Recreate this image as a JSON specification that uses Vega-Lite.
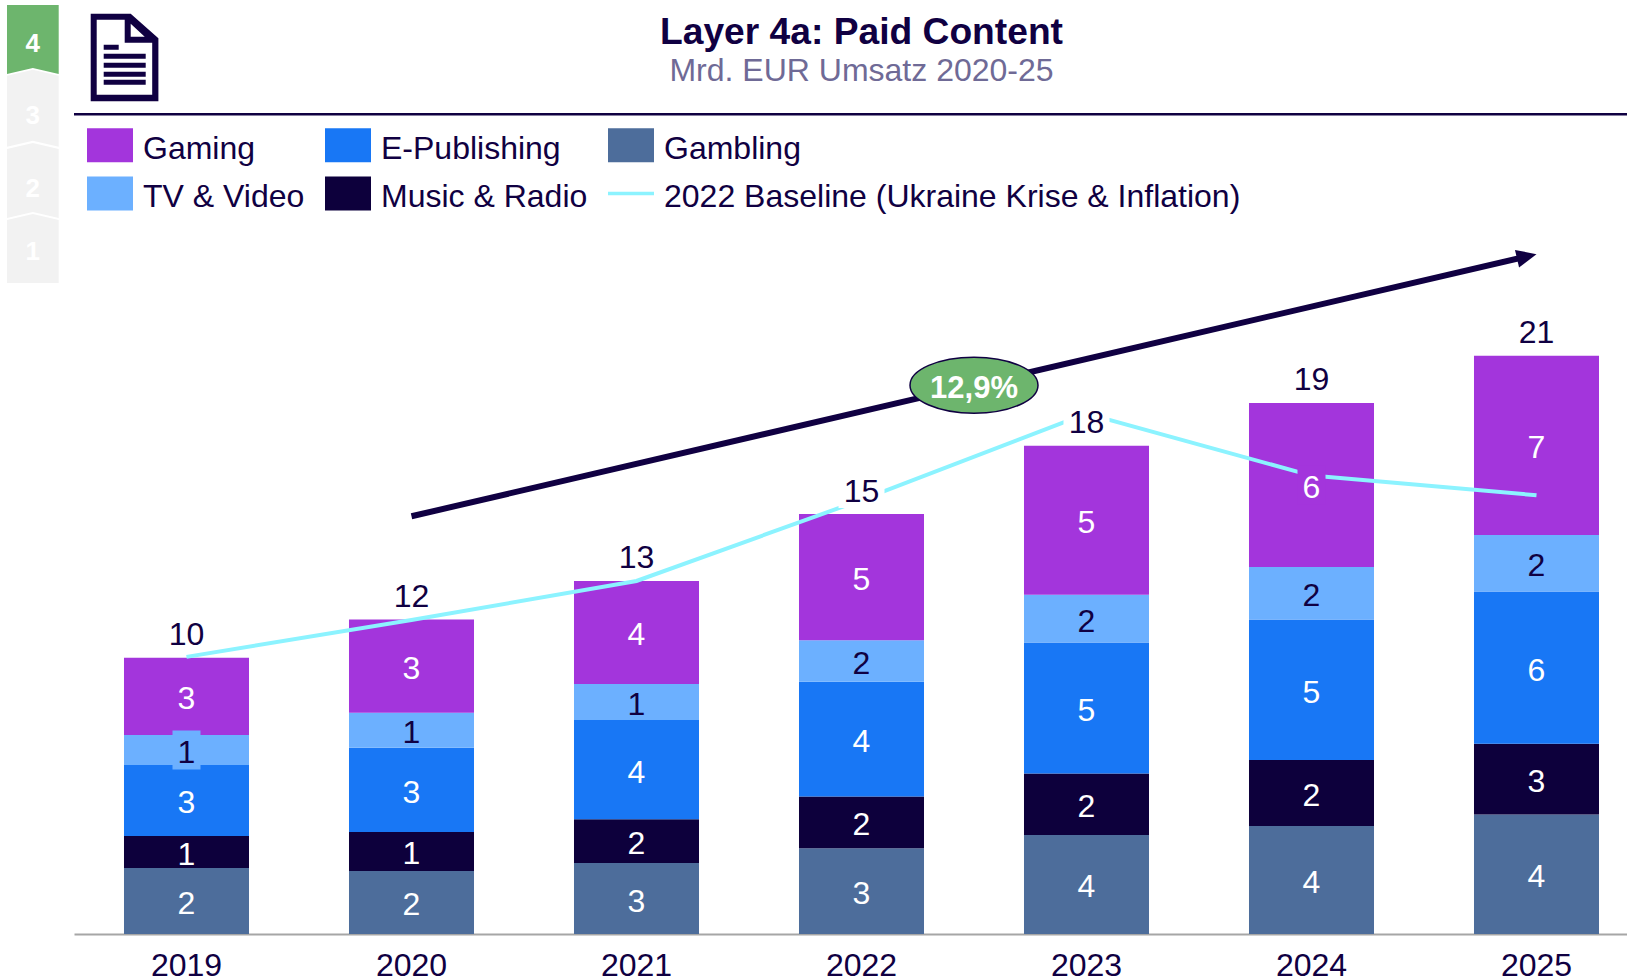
{
"$schema":"https://vega.github.io/schema/vega-lite/v6.json",
"width":1553,"height":824,
"autosize":{"type":"none"},
"padding":{"left":74,"top":110,"right":0,"bottom":44},
"background":"white",
"title":{"text":"Layer 4a: Paid Content","subtitle":"Mrd. EUR Umsatz 2020-25","anchor":"middle","dx":11,"offset":-83,"font":"Liberation Sans","fontSize":37.2,"fontWeight":"bold","color":"#100042","subtitleFont":"Liberation Sans","subtitleFontSize":32,"subtitleColor":"#6f6a96","subtitlePadding":4},
"config":{"view":{"stroke":null},"font":"Liberation Sans"},
"datasets":{
"segments":[
{"year":"2019","series":"Gambling","stack":1,"v":2.42},{"year":"2019","series":"Music & Radio","stack":2,"v":1.17},{"year":"2019","series":"E-Publishing","stack":3,"v":2.6},{"year":"2019","series":"TV & Video","stack":4,"v":1.1},{"year":"2019","series":"Gaming","stack":5,"v":2.83},
{"year":"2020","series":"Gambling","stack":1,"v":2.31},{"year":"2020","series":"Music & Radio","stack":2,"v":1.43},{"year":"2020","series":"E-Publishing","stack":3,"v":3.08},{"year":"2020","series":"TV & Video","stack":4,"v":1.28},{"year":"2020","series":"Gaming","stack":5,"v":3.42},
{"year":"2021","series":"Gambling","stack":1,"v":2.6},{"year":"2021","series":"Music & Radio","stack":2,"v":1.6},{"year":"2021","series":"E-Publishing","stack":3,"v":3.64},{"year":"2021","series":"TV & Video","stack":4,"v":1.32},{"year":"2021","series":"Gaming","stack":5,"v":3.77},
{"year":"2022","series":"Gambling","stack":1,"v":3.14},{"year":"2022","series":"Music & Radio","stack":2,"v":1.9},{"year":"2022","series":"E-Publishing","stack":3,"v":4.2},{"year":"2022","series":"TV & Video","stack":4,"v":1.52},{"year":"2022","series":"Gaming","stack":5,"v":4.62},
{"year":"2023","series":"Gambling","stack":1,"v":3.63},{"year":"2023","series":"Music & Radio","stack":2,"v":2.25},{"year":"2023","series":"E-Publishing","stack":3,"v":4.8},{"year":"2023","series":"TV & Video","stack":4,"v":1.75},{"year":"2023","series":"Gaming","stack":5,"v":5.45},
{"year":"2024","series":"Gambling","stack":1,"v":3.96},{"year":"2024","series":"Music & Radio","stack":2,"v":2.41},{"year":"2024","series":"E-Publishing","stack":3,"v":5.15},{"year":"2024","series":"TV & Video","stack":4,"v":1.92},{"year":"2024","series":"Gaming","stack":5,"v":6.01},
{"year":"2025","series":"Gambling","stack":1,"v":4.38},{"year":"2025","series":"Music & Radio","stack":2,"v":2.59},{"year":"2025","series":"E-Publishing","stack":3,"v":5.57},{"year":"2025","series":"TV & Video","stack":4,"v":2.07},{"year":"2025","series":"Gaming","stack":5,"v":6.57}
],
"baseline":[
{"year":"2019","series":"2022 Baseline (Ukraine Krise & Inflation)","v":10.15},
{"year":"2020","series":"2022 Baseline (Ukraine Krise & Inflation)","v":11.5},
{"year":"2021","series":"2022 Baseline (Ukraine Krise & Inflation)","v":12.93},
{"year":"2022","series":"2022 Baseline (Ukraine Krise & Inflation)","v":15.9},
{"year":"2023","series":"2022 Baseline (Ukraine Krise & Inflation)","v":19.06},
{"year":"2024","series":"2022 Baseline (Ukraine Krise & Inflation)","v":16.79},
{"year":"2025","series":"2022 Baseline (Ukraine Krise & Inflation)","v":16.07}
],
"trend":[{"year":"2020","v":15.3},{"year":"2025","v":24.9}],
"cagr":[{"year":"2022","v":20.1,"label":"12,9%"}],
"nav":[{"year":"2019","layer":"4","v":32.67},{"year":"2019","layer":"3","v":30.04},{"year":"2019","layer":"2","v":27.36},{"year":"2019","layer":"1","v":25.05}]
},
"encoding":{
"x":{"field":"year","type":"nominal","sort":null,"scale":{"type":"band","domain":["2019","2020","2021","2022","2023","2024","2025"],"range":[0,1575],"paddingInner":0.4444,"paddingOuter":0.2222},"axis":{"title":null,"labelAngle":0,"labelFont":"Liberation Sans","labelFontSize":32,"labelColor":"#100042","labelPadding":16,"ticks":false,"domainColor":"#a6a6a6","domainWidth":2,"grid":false}}
},
"layer":[
{"data":{"name":"segments"},"mark":{"type":"bar","opacity":1,"strokeWidth":0},
 "encoding":{"y":{"field":"v","type":"quantitative","stack":"zero","scale":{"domain":[0,30.18],"nice":false},"axis":null},
 "order":{"field":"stack","type":"ordinal"},
 "color":{"field":"series","type":"nominal","sort":null,"scale":{"domain":["Gaming","TV & Video","E-Publishing","Music & Radio","Gambling","2022 Baseline (Ukraine Krise & Inflation)"],"range":["#a335dc","#6cb0ff","#1877f5","#0d003c","#4d6d9b","#8cf3ff"]},
 "legend":{"title":null,"orient":"none","legendX":13,"legendY":12,"columns":3,"columnPadding":20,"rowPadding":5.5,"padding":0,"symbolSize":2116,"symbolType":"M-1,-0.74H1V0.74H-1Z","symbolStrokeWidth":0,"symbolOpacity":1,"labelFont":"Liberation Sans","labelFontSize":32,"labelColor":"#100042","labelOffset":10,"labelLimit":800,
 "encode":{"symbols":{"update":{"shape":{"signal":"indexof(datum.value,'Baseline')>=0 ? 'M-1,-0.08H1V0.08H-1Z' : 'M-1,-0.74H1V0.74H-1Z'"}}},"labels":{"update":{"dy":{"value":3.5}}}}}}}},
{"data":{"name":"baseline"},"mark":{"type":"line","strokeWidth":4,"interpolate":"linear"},
 "encoding":{"y":{"field":"v","type":"quantitative"},"color":{"field":"series","type":"nominal"}}},
{"data":{"name":"trend"},"mark":{"type":"line","color":"#100042","strokeWidth":6,"strokeDash":[1144,100]},
 "encoding":{"y":{"field":"v","type":"quantitative"}}},
{"data":{"name":"trend"},"transform":[{"filter":"datum.year==='2025'"}],
 "mark":{"type":"point","filled":true,"opacity":1,"color":"#100042","size":4,"angle":-13.1,"strokeWidth":0,"shape":"M0,0L-20,-9L-20,9Z"},
 "encoding":{"y":{"field":"v","type":"quantitative"}}},
{"data":{"name":"cagr"},"mark":{"type":"point","filled":true,"opacity":1,"fill":"#6db56d","stroke":"#100042","strokeWidth":1.5,"size":16384,"xOffset":112.5,"shape":"M-1,0A1,0.4375,0,1,1,1,0A1,0.4375,0,1,1,-1,0Z"},
 "encoding":{"y":{"field":"v","type":"quantitative"}}},
{"data":{"name":"cagr"},"mark":{"type":"text","color":"white","font":"Liberation Sans","fontWeight":"bold","fontSize":31,"xOffset":112.5,"baseline":"middle","dy":3.5},
 "encoding":{"y":{"field":"v","type":"quantitative"},"text":{"field":"label"}}},
{"data":{"name":"segments"},"transform":[{"filter":"datum.year==='2022'||datum.year==='2023'"}],
 "mark":{"type":"point","filled":true,"opacity":1,"fill":"white","strokeWidth":0,"size":4,"yOffset":-23,"shape":"M-23,-17H23V17H-23Z"},
 "encoding":{"y":{"aggregate":"sum","field":"v","type":"quantitative","stack":null}}},
{"data":{"name":"segments"},"mark":{"type":"point","filled":true,"opacity":1,"strokeWidth":0,"size":4,"shape":"M-14,-19.5H14V19.5H-14Z"},
 "transform":[{"stack":"v","groupby":["year"],"sort":[{"field":"stack","order":"ascending"}],"as":["v0","v1"]},{"calculate":"(datum.v0+datum.v1)/2","as":"mid"},{"filter":"(datum.year==='2019'&&datum.series==='TV & Video')||(datum.year==='2024'&&datum.series==='Gaming')"}],
 "encoding":{"y":{"field":"mid","type":"quantitative"},"color":{"field":"series","type":"nominal"}}},
{"data":{"name":"segments"},"mark":{"type":"text","font":"Liberation Sans","fontSize":32,"baseline":"middle","dy":3},
 "transform":[{"stack":"v","groupby":["year"],"sort":[{"field":"stack","order":"ascending"}],"as":["v0","v1"]},{"calculate":"(datum.v0+datum.v1)/2","as":"mid"}],
 "encoding":{"y":{"field":"mid","type":"quantitative"},"text":{"field":"v","type":"quantitative","format":".0f"},
 "color":{"condition":{"test":"datum.series==='TV & Video'","value":"#100042"},"value":"white"}}},
{"data":{"name":"segments"},"mark":{"type":"text","font":"Liberation Sans","fontSize":32,"baseline":"middle","dy":-22.5,"color":"#100042"},
 "encoding":{"y":{"aggregate":"sum","field":"v","type":"quantitative","stack":null},"text":{"aggregate":"sum","field":"v","type":"quantitative","format":".0f"}}},
{"data":{"values":[{"v":30.02}]},"mark":{"type":"rule","color":"#100042","strokeWidth":2.5},"encoding":{"x":{"value":0},"x2":{"value":1553},"y":{"field":"v","type":"quantitative"}}},
{"data":{"values":[{"year":"2019","v":32.09}]},"mark":{"type":"point","filled":true,"opacity":1,"color":"#100042","strokeWidth":0,"size":4,"xOffset":-61.8,"shape":"M-34,-44L6,-44L33.7,-19.5L33.7,43.5L-34,43.5ZM-28,-38L-28,37L27.5,37L27.5,-15L0,-15L0,-38ZM6,-34L6,-21L20,-21ZM-21,-13H-6V-8H-21ZM-21,-4H21V1H-21ZM-21,5H21V10H-21ZM-21,14H21V19H-21ZM-21,22H21V27H-21Z"},
 "encoding":{"y":{"field":"v","type":"quantitative"}}},
{"data":{"name":"nav"},"mark":{"type":"point","filled":true,"opacity":1,"strokeWidth":0,"size":4,"xOffset":-153.65},
 "encoding":{"y":{"field":"v","type":"quantitative"},
 "shape":{"field":"layer","type":"nominal","legend":null,"scale":{"domain":["4","3","2","1"],"range":["M-25.85,-37H25.85V32L0,26L-25.85,32Z","M-25.85,-38L0,-44L25.85,-38V33L0,27L-25.85,33Z","M-25.85,-38L0,-44L25.85,-38V31L0,25L-25.85,31Z","M-25.85,-30L0,-36L25.85,-30V33H-25.85Z"]}},
 "fill":{"field":"layer","type":"nominal","legend":null,"scale":{"domain":["4","3","2","1"],"range":["#6db56d","#f2f2f2","#f2f2f2","#f2f2f2"]}}}},
{"data":{"name":"nav"},"mark":{"type":"text","color":"white","font":"Liberation Sans","fontWeight":"bold","fontSize":26,"baseline":"middle","xOffset":-153.65,"dy":2},
 "encoding":{"y":{"field":"v","type":"quantitative"},"text":{"field":"layer"}}}
]
}
